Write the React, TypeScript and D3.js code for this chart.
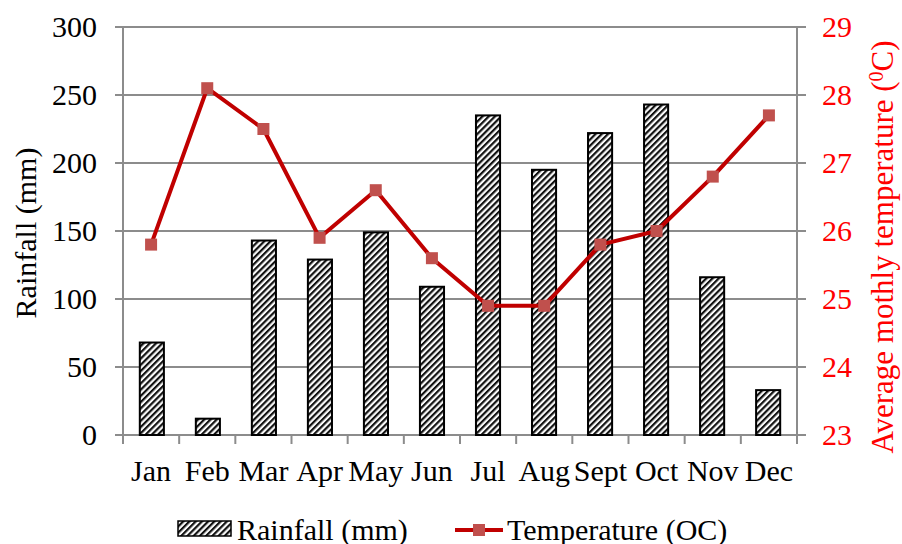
import React from "react";
import * as d3 from "d3";

const months = ["Jan", "Feb", "Mar", "Apr", "May", "Jun", "Jul", "Aug", "Sept", "Oct", "Nov", "Dec"];
const rainfall = [68, 12, 143, 129, 149, 109, 235, 195, 222, 243, 116, 33];
const temperature = [25.8, 28.1, 27.5, 25.9, 26.6, 25.6, 24.9, 24.9, 25.8, 26.0, 26.8, 27.7];
const rainTicks = [0, 50, 100, 150, 200, 250, 300];
const tempTicks = [23, 24, 25, 26, 27, 28, 29];

const W = 902;
const H = 544;
const left = 123;
const right = 797;
const top = 27;
const bottom = 435;
const FONT = "'Liberation Serif', 'DejaVu Serif', serif";
const GRID = "#8c8c8c";
const FS = 30;

export default function App() {
  const x = d3.scaleBand<string>().domain(months).range([left, right]).paddingInner(0.57).paddingOuter(0.3);
  const xCat = d3.scaleBand<string>().domain(months).range([left, right]);
  const yL = d3.scaleLinear().domain([0, 300]).range([bottom, top]);
  const yR = d3.scaleLinear().domain([23, 29]).range([bottom, top]);

  const line = d3
    .line<number>()
    .x((_, i) => (xCat(months[i]) as number) + xCat.bandwidth() / 2)
    .y((d) => yR(d));

  const boundaries = months.map((m) => xCat(m) as number).concat([right]);

  return (
    <svg width={W} height={H} style={{ position: "absolute", left: 0, top: 0, background: "#fff" }} fontFamily={FONT}>
      <defs>
        <pattern id="hatch" patternUnits="userSpaceOnUse" width={4.4} height={4.4} patternTransform="rotate(45)">
          <rect x={0} y={0} width={4.4} height={4.4} fill="#fff" />
          <rect x={0} y={0} width={2.2} height={4.4} fill="#111" />
          <rect x={2.2} y={0} width={0.5} height={4.4} fill="#888" />
        </pattern>
      </defs>

      {/* horizontal gridlines */}
      {rainTicks.map((t) => (
        <line key={"g" + t} x1={left} x2={right} y1={yL(t)} y2={yL(t)} stroke={GRID} strokeWidth={2} />
      ))}

      {/* left axis */}
      <line x1={left} x2={left} y1={top} y2={bottom} stroke={GRID} strokeWidth={2} />
      {rainTicks.map((t) => (
        <g key={"l" + t}>
          <line x1={left - 8} x2={left + 4} y1={yL(t)} y2={yL(t)} stroke={GRID} strokeWidth={2} />
          <text x={97} y={yL(t) + 10} textAnchor="end" fontSize={FS} fill="#000">
            {t}
          </text>
        </g>
      ))}

      {/* right axis */}
      <line x1={right} x2={right} y1={top} y2={bottom} stroke={GRID} strokeWidth={2} />
      {tempTicks.map((t) => (
        <g key={"r" + t}>
          <line x1={right - 6} x2={right + 9} y1={yR(t)} y2={yR(t)} stroke={GRID} strokeWidth={2} />
          <text x={822} y={yR(t) + 10} textAnchor="start" fontSize={FS} fill="#ff0000">
            {t}
          </text>
        </g>
      ))}

      {/* bottom axis ticks at category boundaries */}
      {boundaries.map((b, i) => (
        <line key={"b" + i} x1={b} x2={b} y1={bottom} y2={bottom + 9} stroke={GRID} strokeWidth={2} />
      ))}

      {/* rainfall bars */}
      {rainfall.map((v, i) => (
        <rect
          key={"bar" + i}
          x={x(months[i]) as number}
          y={yL(v)}
          width={x.bandwidth()}
          height={bottom - yL(v)}
          fill="url(#hatch)"
          stroke="#000"
          strokeWidth={2}
        />
      ))}

      {/* month labels */}
      {months.map((m) => (
        <text
          key={"m" + m}
          x={(xCat(m) as number) + xCat.bandwidth() / 2}
          y={481}
          textAnchor="middle"
          fontSize={FS}
          fill="#000"
        >
          {m}
        </text>
      ))}

      {/* temperature line */}
      <path d={line(temperature) || ""} fill="none" stroke="#c00000" strokeWidth={4} strokeLinejoin="round" />
      {temperature.map((v, i) => (
        <rect
          key={"mk" + i}
          x={(xCat(months[i]) as number) + xCat.bandwidth() / 2 - 6}
          y={yR(v) - 6}
          width={12}
          height={12}
          fill="#c0504d"
        />
      ))}

      {/* axis titles */}
      <text transform={`translate(36,233) rotate(-90)`} textAnchor="middle" fontSize={FS} fill="#000">
        Rainfall (mm)
      </text>
      <text transform={`translate(893,247) rotate(-90)`} textAnchor="middle" fontSize={31} fill="#ff0000">
        Average mothly temperature (<tspan dy={-10} fontSize={20}>0</tspan>
        <tspan dy={10}>C)</tspan>
      </text>

      {/* legend */}
      <rect x={178} y={521} width={53} height={15} fill="url(#hatch)" stroke="#000" strokeWidth={1.5} />
      <text x={237} y={540} fontSize={FS} fill="#000">
        Rainfall (mm)
      </text>
      <line x1={455} x2={503} y1={530} y2={530} stroke="#c00000" strokeWidth={4} />
      <rect x={473} y={524} width={12} height={12} fill="#c0504d" />
      <text x={507} y={540} fontSize={FS} fill="#000">
        Temperature (OC)
      </text>
    </svg>
  );
}
